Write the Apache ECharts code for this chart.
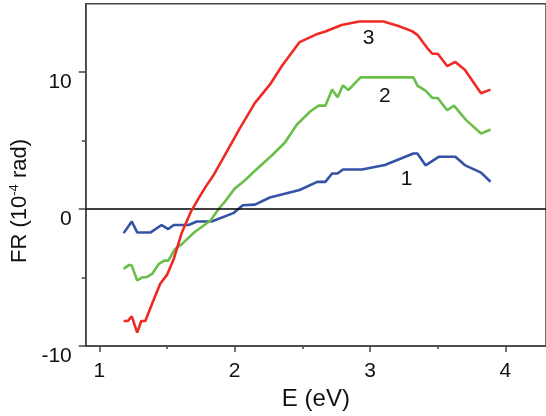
<!DOCTYPE html>
<html><head><meta charset="utf-8">
<script src="https://cdn.jsdelivr.net/npm/echarts@6/dist/echarts.min.js"></script>
<style>html,body{margin:0;padding:0;background:#fff}#c{width:546px;height:416px}</style>
</head><body><div id="c"></div>
<script>
const E1 = [1.18,1.24,1.28,1.38,1.46,1.51,1.55,1.66,1.72,1.83,1.99,2.06,2.15,2.26,2.48,2.61,2.67,2.72,2.76,2.80,2.94,3.11,3.32,3.35,3.41,3.51,3.63,3.70,3.82,3.89];
const FR1 = [-1.75,-0.9,-1.7,-1.7,-1.16,-1.45,-1.16,-1.16,-0.9,-0.9,-0.29,0.29,0.33,0.85,1.4,1.99,1.99,2.6,2.6,2.9,2.9,3.22,4.07,4.07,3.2,3.83,3.83,3.22,2.67,2.0];
const E2 = [1.18,1.22,1.24,1.28,1.32,1.35,1.39,1.44,1.48,1.51,1.56,1.61,1.70,1.82,1.88,1.92,2.00,2.07,2.16,2.27,2.37,2.46,2.56,2.62,2.67,2.72,2.76,2.80,2.84,2.93,3.32,3.35,3.41,3.46,3.50,3.57,3.62,3.71,3.82,3.89];
const FR2 = [-4.36,-4.07,-4.12,-5.21,-4.97,-4.97,-4.73,-4.0,-3.76,-3.76,-2.91,-2.55,-1.7,-0.85,0.0,0.45,1.5,2.06,2.9,3.88,4.85,6.18,7.15,7.56,7.56,8.73,8.17,9.04,8.7,9.62,9.62,9.02,8.66,8.12,8.12,7.22,7.56,6.5,5.52,5.82];
const E3 = [1.18,1.21,1.24,1.28,1.31,1.34,1.39,1.45,1.50,1.55,1.61,1.68,1.74,1.79,1.84,1.91,2.04,2.15,2.26,2.35,2.48,2.60,2.67,2.79,2.92,3.10,3.21,3.31,3.35,3.42,3.46,3.50,3.57,3.63,3.70,3.82,3.89];
const FR3 = [-8.17,-8.17,-7.83,-9.02,-8.17,-8.17,-6.91,-5.45,-4.8,-3.64,-1.7,-0.12,0.9,1.7,2.42,3.64,5.94,7.76,9.09,10.47,12.2,12.75,12.97,13.45,13.7,13.7,13.38,13.0,12.73,11.8,11.35,11.35,10.45,10.75,10.18,8.47,8.73];
const xMajorTicks = [1,2,3,4];
const xMinorTicks = [1.5,2.5,3.5];
const yMajorTicks = [-10,0,10];
const yMinorTicks = [-5,5];
const seriesNames = ['1','2','3'];
const labelPos = [[3.27,2.18],[3.11,8.24],[2.99,12.49]];

const FONT = '"Liberation Sans", Arial, sans-serif';
const axisColor = '#444';
const zip = (a,b) => a.map((v,i)=>[v,b[i]]);
const colors = ['#3452a6','#6abf4b','#ef2a24'];
const datas = [zip(E1,FR1), zip(E2,FR2), zip(E3,FR3)];

const chart = echarts.init(document.getElementById('c'));
const xBase = {type:'value', min:0.9, max:4.3, splitLine:{show:false}};
const yBase = {type:'value', min:-10, max:15, splitLine:{show:false}};
chart.setOption({
  animation:false,
  backgroundColor:'#fff',
  grid:{left:84.5, top:3.75, bottom:68.5, right:-3.4, show:true, borderColor:axisColor, borderWidth:1.5, backgroundColor:'transparent'},
  xAxis:[
    Object.assign({}, xBase, {
      name:'E (eV)', nameLocation:'middle', nameGap:37,
      nameTextStyle:{fontFamily:FONT, fontSize:24, color:'#111'},
      axisLine:{show:true, onZero:false, lineStyle:{color:axisColor, width:1.5}},
      axisTick:{show:true, length:6, customValues:xMajorTicks, lineStyle:{color:axisColor, width:1.5}},
      axisLabel:{customValues:xMajorTicks, margin:15, fontFamily:FONT, fontSize:21, color:'#111'}
    }),
    Object.assign({}, xBase, {
      position:'bottom',
      axisLine:{show:false, onZero:false},
      axisTick:{show:true, length:3, customValues:xMinorTicks, lineStyle:{color:axisColor, width:1.5}},
      axisLabel:{show:false}
    })
  ],
  yAxis:[
    Object.assign({}, yBase, {
      name:'{a|FR (10}{s|-4}{a| rad)}', nameLocation:'middle', nameGap:41,
      nameTextStyle:{fontFamily:FONT, fontSize:22, color:'#111', padding:[0,52,0,0],
        rich:{a:{fontFamily:FONT, fontSize:22, color:'#111'}, s:{fontFamily:FONT, fontSize:13, color:'#111', verticalAlign:'top', padding:[0,0,10,0]}}},
      axisLine:{show:true, onZero:false, lineStyle:{color:axisColor, width:1.5}},
      axisTick:{show:true, length:7, customValues:yMajorTicks, lineStyle:{color:axisColor, width:1.5}},
      axisLabel:{customValues:yMajorTicks, margin:14, fontFamily:FONT, fontSize:21, color:'#111', lineHeight:20,
        formatter: v => '\n' + v}
    }),
    Object.assign({}, yBase, {
      position:'left',
      axisLine:{show:false, onZero:false},
      axisTick:{show:true, length:4, customValues:yMinorTicks, lineStyle:{color:axisColor, width:1.5}},
      axisLabel:{show:false}
    })
  ],
  series: datas.map((d,i)=>({
    type:'line', name:seriesNames[i], data:d, showSymbol:false, symbol:'none',
    lineStyle:{color:colors[i], width:2.6}, itemStyle:{color:colors[i]},
    z: 3+i,
    markPoint:{symbol:'circle', symbolSize:1, itemStyle:{color:'rgba(0,0,0,0)'}, silent:true,
      label:{show:true, position:'inside', formatter:seriesNames[i], fontFamily:FONT, fontSize:21, color:'#111'},
      data:[{coord:labelPos[i]}]},
    markLine: i===0 ? {symbol:'none', silent:true, label:{show:false}, lineStyle:{color:'#000', width:1.5, type:'solid'}, data:[{yAxis:0}]} : undefined
  }))
});
</script></body></html>
